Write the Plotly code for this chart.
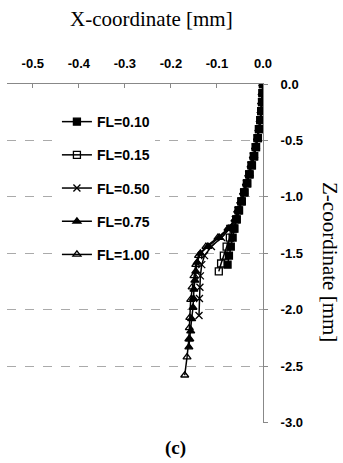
import plotly.graph_objects as go

# ---- data (x in mm, z in mm) ----
z_top = [0.0, -0.08, -0.16, -0.24, -0.32, -0.40, -0.48, -0.56, -0.64, -0.72, -0.80, -0.88, -0.96, -1.04, -1.12]

fl10_x = [0.0, -0.001, -0.002, -0.003, -0.005, -0.008, -0.011, -0.015, -0.019, -0.024, -0.029, -0.034, -0.040, -0.046, -0.052,
          -0.057, -0.062, -0.066, -0.070, -0.074, -0.077]
fl10_z = z_top + [-1.20, -1.28, -1.36, -1.44, -1.52, -1.60]

fl15_x = [0.0, -0.001, -0.002, -0.004, -0.006, -0.009, -0.012, -0.016, -0.020, -0.025, -0.030, -0.035, -0.041, -0.047, -0.053,
          -0.058, -0.064, -0.072, -0.079, -0.085, -0.091, -0.096]
fl15_z = z_top + [-1.20, -1.28, -1.36, -1.44, -1.52, -1.59, -1.66]

fl50_x = [0.0, -0.001, -0.003, -0.004, -0.006, -0.009, -0.012, -0.016, -0.021, -0.026, -0.031, -0.036, -0.042, -0.048, -0.054,
          -0.060, -0.072, -0.090, -0.112, -0.127, -0.133, -0.136, -0.137, -0.138, -0.139]
fl50_z = z_top + [-1.20, -1.28, -1.36, -1.44, -1.52, -1.60, -1.70, -1.80, -1.90, -2.05]

fl75_x = [0.0, -0.002, -0.003, -0.004, -0.006, -0.009, -0.012, -0.016, -0.020, -0.025, -0.030, -0.036, -0.042, -0.048, -0.054,
          -0.060, -0.074, -0.095, -0.120, -0.136, -0.143, -0.146, -0.148, -0.150, -0.151, -0.152, -0.155, -0.157, -0.159, -0.161]
fl75_z = z_top + [-1.20, -1.28, -1.36, -1.44, -1.50, -1.58, -1.66, -1.74, -1.82, -1.90, -1.98, -2.08, -2.19, -2.26, -2.33]

fl100_x = [0.0, -0.001, -0.002, -0.004, -0.006, -0.008, -0.012, -0.016, -0.021, -0.026, -0.031, -0.036, -0.042, -0.048, -0.055,
           -0.061, -0.076, -0.098, -0.124, -0.140, -0.146, -0.150, -0.154, -0.157, -0.159, -0.160, -0.161, -0.165, -0.170]
fl100_z = z_top + [-1.20, -1.28, -1.36, -1.44, -1.52, -1.60, -1.70, -1.80, -1.91, -2.07, -2.16, -2.26, -2.42, -2.58]

series = [
    ("FL=0.10", fl10_x, fl10_z, "square"),
    ("FL=0.15", fl15_x, fl15_z, "square-open"),
    ("FL=0.50", fl50_x, fl50_z, "x-thin"),
    ("FL=0.75", fl75_x, fl75_z, "triangle-up"),
    ("FL=1.00", fl100_x, fl100_z, "triangle-up-open"),
]

x_ticks = [-0.5, -0.4, -0.3, -0.2, -0.1, 0.0]
x_ticklabels = ["-0.5", "-0.4", "-0.3", "-0.2", "-0.1", "0.0"]
z_ticks = [0.0, -0.5, -1.0, -1.5, -2.0, -2.5, -3.0]
z_ticklabels = ["0.0", "-0.5", "-1.0", "-1.5", "-2.0", "-2.5", "-3.0"]

fig = go.Figure()
for i, (name, xs, zs, sym) in enumerate(series):
    fig.add_trace(go.Scatter(
        x=xs, y=zs, name=name, mode="lines+markers",
        legendgroup=f"g{i}",
        line=dict(color="black", width=1.5),
        marker=dict(symbol=sym, size=7, color="black",
                    line=dict(color="black", width=1.3)),
    ))

tickfont = dict(family="Liberation Sans", size=13, color="black", weight="bold")
legfont = dict(family="Liberation Sans", size=14, color="black", weight="bold")
SERIF = "Liberation Serif, Times New Roman, DejaVu Serif, serif"

# plot area: x 7..263 px, y 84..423 px
def px_x(p):
    return (p - 7) / 256

def px_y(p):
    return (423 - p) / 339

fig.update_layout(
    width=343, height=463,
    margin=dict(l=7, r=80, t=84, b=40),
    paper_bgcolor="white", plot_bgcolor="white",
    showlegend=True,
    legend=dict(x=0.195, y=0.935, xanchor="left", yanchor="top",
                bgcolor="white", font=legfont, tracegroupgap=12,
                itemwidth=30),
    xaxis=dict(side="top", range=[-0.556, 0.0], tickvals=x_ticks, ticktext=x_ticklabels,
               showgrid=False, zeroline=False, showline=True, linecolor="#888888", linewidth=1,
               ticks="inside", ticklen=4, tickcolor="#888888",
               tickfont=tickfont, ticklabelstandoff=10, fixedrange=True),
    yaxis=dict(side="right", range=[-3.003, 0.0], tickvals=z_ticks, ticktext=z_ticklabels,
               showgrid=True, gridcolor="#aaaaaa", griddash="dash", gridwidth=1,
               zeroline=False, showline=True, linecolor="#888888", linewidth=1,
               ticks="outside", ticklen=4, tickcolor="#888888",
               tickfont=tickfont, ticklabelstandoff=10, fixedrange=True),
    annotations=[
        dict(text="X-coordinate [mm]", xref="paper", yref="paper", x=px_x(151), y=px_y(19),
             xanchor="center", yanchor="middle",
             showarrow=False, font=dict(family=SERIF, size=21, color="black")),
        dict(text="Z-coordinate [mm]", xref="paper", yref="paper", x=px_x(330), y=px_y(262),
             xanchor="center", yanchor="middle",
             textangle=90, showarrow=False, font=dict(family=SERIF, size=21, color="black")),
        dict(text="<b>(c)</b>", xref="paper", yref="paper", x=px_x(175), y=px_y(448),
             xanchor="center", yanchor="middle",
             showarrow=False, font=dict(family=SERIF, size=19, color="black")),
    ],
)

fig.write_html("out.html")
